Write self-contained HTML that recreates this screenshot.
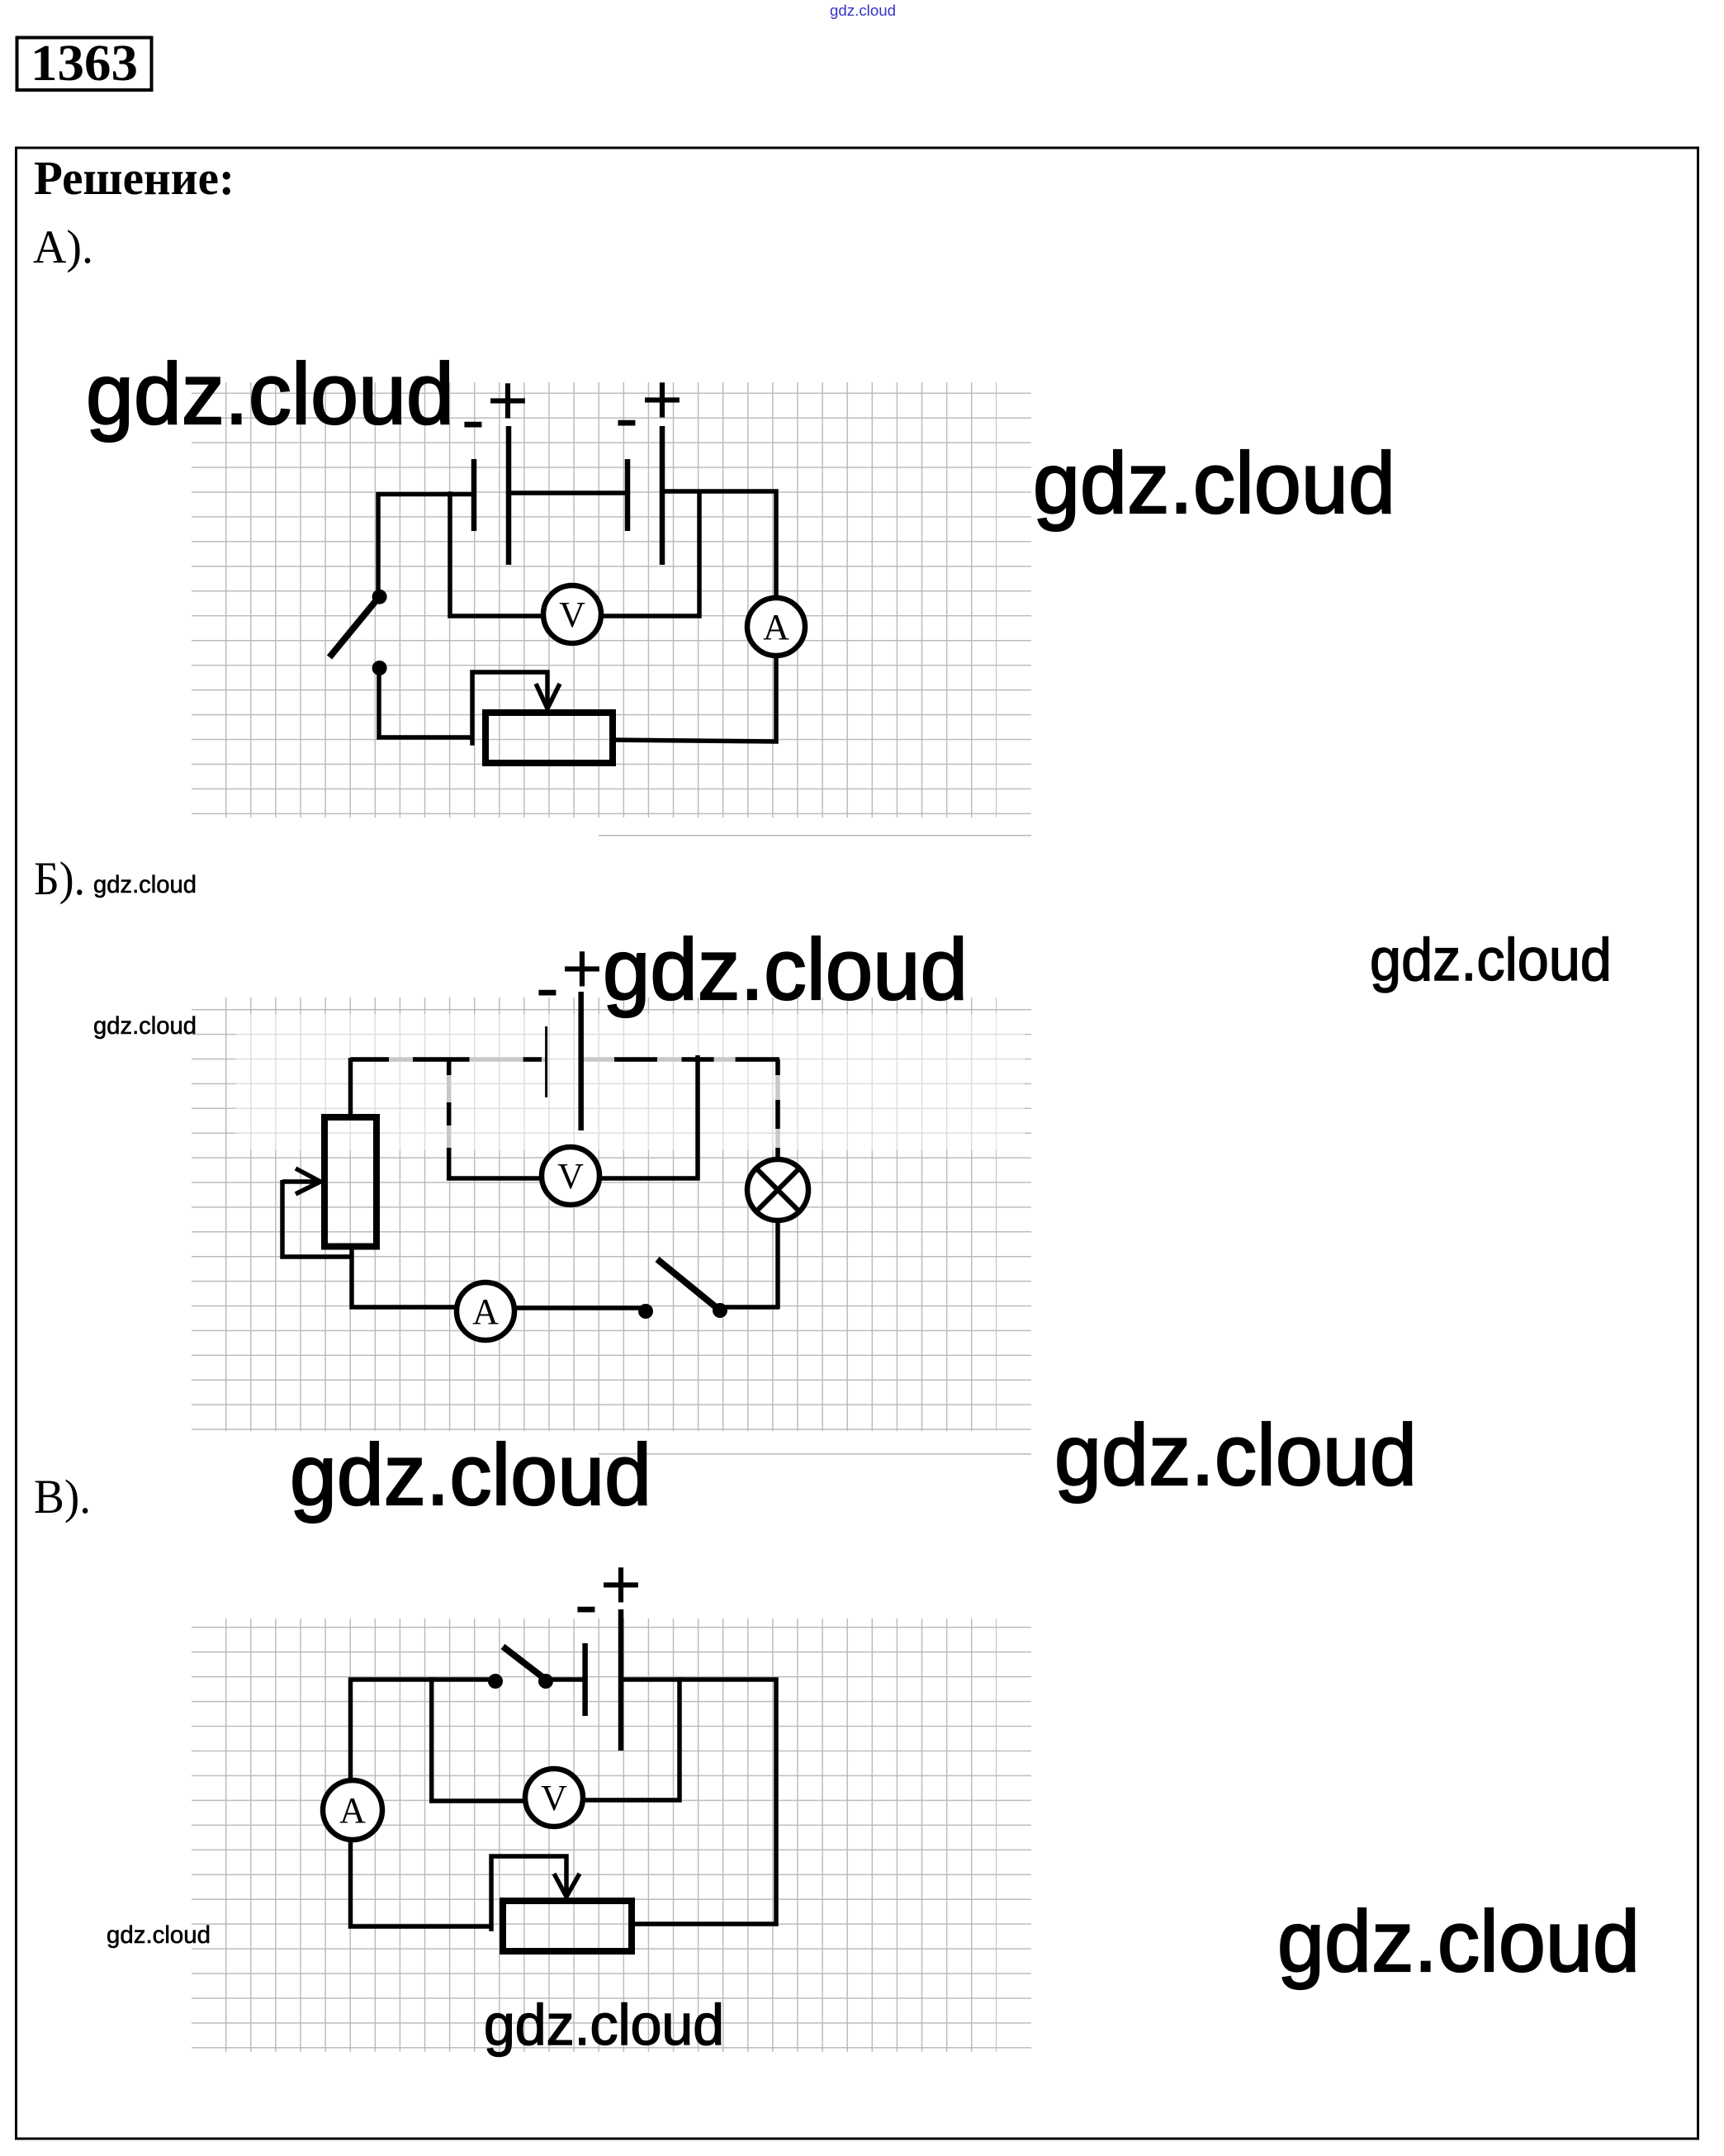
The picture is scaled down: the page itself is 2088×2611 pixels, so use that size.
<!DOCTYPE html>
<html>
<head>
<meta charset="utf-8">
<style>
  html, body { margin: 0; padding: 0; background: #fff; }
  svg { display: block; }
</style>
</head>
<body>
<svg xmlns="http://www.w3.org/2000/svg" width="2088" height="2611" viewBox="0 0 2088 2611">
  <defs>
    <pattern id="pv" x="273" y="0" width="30.1" height="20" patternUnits="userSpaceOnUse">
      <rect x="0" y="0" width="1.4" height="20" fill="#b8b8b8"/>
    </pattern>
    <pattern id="phA" x="0" y="475.5" width="20" height="29.95" patternUnits="userSpaceOnUse">
      <rect x="0" y="0" width="20" height="1.4" fill="#b8b8b8"/>
    </pattern>
    <pattern id="phB" x="0" y="1222" width="20" height="29.9" patternUnits="userSpaceOnUse">
      <rect x="0" y="0" width="20" height="1.4" fill="#b8b8b8"/>
    </pattern>
    <pattern id="phC" x="0" y="1970" width="20" height="29.95" patternUnits="userSpaceOnUse">
      <rect x="0" y="0" width="20" height="1.4" fill="#b8b8b8"/>
    </pattern>
  </defs>

  <rect x="0" y="0" width="2088" height="2611" fill="#fff"/>

  <!-- tiny blue header watermark -->
  <text x="1005" y="19" font-family="Liberation Sans, sans-serif" font-size="18" fill="#3535c8" textLength="80" lengthAdjust="spacingAndGlyphs">gdz.cloud</text>

  <!-- 1363 box -->
  <rect x="20.5" y="45.5" width="163" height="63.5" fill="none" stroke="#000" stroke-width="4"/>
  <text x="37" y="97" font-family="Liberation Serif, serif" font-weight="bold" font-size="62" fill="#000" textLength="130" lengthAdjust="spacingAndGlyphs">1363</text>

  <!-- main frame -->
  <rect x="19.5" y="179" width="2037" height="2411" fill="none" stroke="#000" stroke-width="3"/>

  <text x="41" y="235" font-family="Liberation Serif, serif" font-weight="bold" font-size="58" fill="#000" textLength="243" lengthAdjust="spacingAndGlyphs">Решение:</text>
  <text x="40" y="318" font-family="Liberation Serif, serif" font-size="57" fill="#000" textLength="73" lengthAdjust="spacingAndGlyphs">А).</text>
  <text x="41" y="1083" font-family="Liberation Serif, serif" font-size="57" fill="#000" textLength="62" lengthAdjust="spacingAndGlyphs">Б).</text>
  <text x="41" y="1832" font-family="Liberation Serif, serif" font-size="58" fill="#000" textLength="69" lengthAdjust="spacingAndGlyphs">В).</text>

  <!-- ===== GRIDS ===== -->
  <!-- A -->
  <rect x="272" y="463" width="935" height="527" fill="url(#pv)"/>
  <rect x="232" y="475.5" width="1017" height="511" fill="url(#phA)"/>
  <rect x="725" y="1011" width="524" height="1.5" fill="#b8b8b8"/>
  <!-- B -->
  <rect x="272" y="1208" width="935" height="525" fill="url(#pv)"/>
  <rect x="232" y="1222" width="1017" height="510" fill="url(#phB)"/>
  <rect x="285" y="1228" width="956" height="165" fill="#fff" opacity="0.5"/>
  <rect x="725" y="1760" width="524" height="1.5" fill="#b8b8b8"/>
  <!-- C -->
  <rect x="272" y="1960" width="935" height="525" fill="url(#pv)"/>
  <rect x="232" y="1970" width="1017" height="511" fill="url(#phC)"/>

  <!-- ===== CIRCUIT A ===== -->
  <g stroke="#000" fill="none" stroke-width="5.5" stroke-linecap="square">
    <path d="M458,722 V598.5 H574 M616,597 H760 M802,595 H940 V724 M940,794 V898 L742,896"/>
    <path d="M545,598 V746 H658 M728,746 H847 V596"/>
    <path d="M459,809 V893 H572 M572,900 V814 H663 V856"/>
    <path d="M649,828 L663,858 L678,828" stroke-linecap="butt"/>
    <path stroke-width="6.5" stroke-linecap="butt" d="M574,556 V643 M616,516 V684 M760,556 V643 M802,516 V684"/>
    <path stroke-width="8" stroke-linecap="butt" d="M459,723 L399,796"/>
    <rect x="588" y="863" width="154" height="61" stroke-width="8"/>
    <circle cx="693" cy="744" r="35" fill="#fff" stroke-width="6.5"/>
    <circle cx="940" cy="759" r="35" fill="#fff" stroke-width="6.5"/>
  </g>
  <circle cx="459.6" cy="722.7" r="9" fill="#000"/>
  <circle cx="459.6" cy="809" r="9" fill="#000"/>
  <text x="693" y="759" text-anchor="middle" font-family="Liberation Serif, serif" font-size="44" fill="#000">V</text>
  <text x="940" y="774" text-anchor="middle" font-family="Liberation Serif, serif" font-size="44" fill="#000">A</text>
  <g font-family="Liberation Sans, sans-serif" font-size="86" fill="#000" text-anchor="middle">
    <text x="573" y="537">-</text>
    <text x="615" y="514">+</text>
    <text x="759" y="535">-</text>
    <text x="802" y="513">+</text>
  </g>

  <!-- ===== CIRCUIT B ===== -->
  <g stroke="#c8c8c8" fill="none" stroke-width="5.5">
    <path d="M424.5,1283 H661 M704,1283 H942 M543.7,1283 V1427 M942,1283 V1404"/>
  </g>
  <g stroke="#000" fill="none" stroke-width="5.5" stroke-linecap="butt">
    <path d="M424.5,1283 H471 M500,1283 H568.5 M633.6,1283 H656 M744,1283 H796 M825.5,1283 H864.6 M890.6,1283 H944"/>
    <path d="M543.7,1283 V1302 M543.7,1335 V1363 M543.7,1390 V1427 H656 M726,1427 H845 V1278"/>
    <path d="M942,1283 V1302 M942,1332 V1367 M942,1390 V1404"/>
    <path d="M424.5,1281 V1353"/>
    <path stroke-width="3" d="M661.6,1243 V1329"/>
    <path stroke-width="6.5" d="M703.7,1201 V1369"/>
    <rect x="393" y="1353" width="63" height="156.5" stroke-width="8"/>
    <path d="M342,1431 H386"/>
    <path d="M358,1415 L388,1431 L358,1446"/>
    <path d="M342,1429 V1522 H426 V1583 H553 M426,1512 V1522"/>
    <path d="M623,1584 H782"/>
    <path stroke-width="8" d="M796,1525 L872,1587"/>
    <path d="M872,1583 H944 M942,1585 V1478"/>
    <circle cx="588" cy="1588" r="35" fill="#fff" stroke-width="6.5"/>
    <circle cx="691" cy="1424" r="35" fill="#fff" stroke-width="6.5"/>
    <circle cx="942" cy="1441" r="37" fill="#fff" stroke-width="6.5"/>
    <path stroke-width="6" d="M916,1415 L968,1467 M968,1415 L916,1467"/>
  </g>
  <circle cx="782" cy="1588" r="9" fill="#000"/>
  <circle cx="872" cy="1587" r="9" fill="#000"/>
  <text x="691" y="1439" text-anchor="middle" font-family="Liberation Serif, serif" font-size="44" fill="#000">V</text>
  <text x="588" y="1603" text-anchor="middle" font-family="Liberation Serif, serif" font-size="44" fill="#000">A</text>
  <g font-family="Liberation Sans, sans-serif" font-size="86" fill="#000" text-anchor="middle">
    <text x="663" y="1225">-</text>
    <text x="705" y="1202">+</text>
  </g>

  <!-- ===== CIRCUIT C ===== -->
  <g stroke="#000" fill="none" stroke-width="5.5" stroke-linecap="square">
    <path d="M424.5,2156 V2034 H600 M661,2034 H708.6 M752,2034 H940 V2330 H765"/>
    <path d="M424.5,2228 V2333 H595 M595,2336 V2248 H686 V2294"/>
    <path d="M522.7,2034 V2181 H636 M706.5,2180 H823 V2034"/>
    <path d="M671,2269 L686,2297 L702,2269" stroke-linecap="butt"/>
    <path stroke-width="6.5" stroke-linecap="butt" d="M708.6,1990 V2078 M752,1949 V2120"/>
    <path stroke-width="8" stroke-linecap="butt" d="M609,1994 L661,2034"/>
    <rect x="609" y="2302" width="156" height="61" stroke-width="8"/>
    <circle cx="427" cy="2192" r="36" fill="#fff" stroke-width="6.5"/>
    <circle cx="671" cy="2177" r="35" fill="#fff" stroke-width="6.5"/>
  </g>
  <circle cx="600" cy="2036" r="9" fill="#000"/>
  <circle cx="661" cy="2036" r="9" fill="#000"/>
  <text x="671" y="2192" text-anchor="middle" font-family="Liberation Serif, serif" font-size="44" fill="#000">V</text>
  <text x="427" y="2207" text-anchor="middle" font-family="Liberation Serif, serif" font-size="44" fill="#000">A</text>
  <g font-family="Liberation Sans, sans-serif" font-size="86" fill="#000" text-anchor="middle">
    <text x="710" y="1972">-</text>
    <text x="752" y="1948">+</text>
  </g>

  <!-- ===== WATERMARKS ===== -->
  <g font-family="Liberation Sans, sans-serif" fill="#000" stroke="#000">
    <text x="104" y="513" font-size="105" stroke-width="2.2" textLength="446" lengthAdjust="spacingAndGlyphs">gdz.cloud</text>
    <text x="1251" y="621" font-size="105" stroke-width="2.2" textLength="439" lengthAdjust="spacingAndGlyphs">gdz.cloud</text>
    <text x="113" y="1081" font-size="30" stroke-width="0.6" textLength="125" lengthAdjust="spacingAndGlyphs">gdz.cloud</text>
    <text x="113" y="1252" font-size="30" stroke-width="0.6" textLength="125" lengthAdjust="spacingAndGlyphs">gdz.cloud</text>
    <text x="730" y="1210" font-size="105" stroke-width="2.2" textLength="442" lengthAdjust="spacingAndGlyphs">gdz.cloud</text>
    <text x="1659" y="1187" font-size="72" stroke-width="1.5" textLength="293" lengthAdjust="spacingAndGlyphs">gdz.cloud</text>
    <text x="351" y="1822" font-size="105" stroke-width="2.2" textLength="438" lengthAdjust="spacingAndGlyphs">gdz.cloud</text>
    <text x="1277" y="1798" font-size="105" stroke-width="2.2" textLength="439" lengthAdjust="spacingAndGlyphs">gdz.cloud</text>
    <text x="129" y="2353" font-size="30" stroke-width="0.6" textLength="126" lengthAdjust="spacingAndGlyphs">gdz.cloud</text>
    <text x="1547" y="2387" font-size="105" stroke-width="2.2" textLength="439" lengthAdjust="spacingAndGlyphs">gdz.cloud</text>
    <text x="586" y="2476" font-size="70" stroke-width="1.5" textLength="291" lengthAdjust="spacingAndGlyphs">gdz.cloud</text>
  </g>
</svg>
</body>
</html>
